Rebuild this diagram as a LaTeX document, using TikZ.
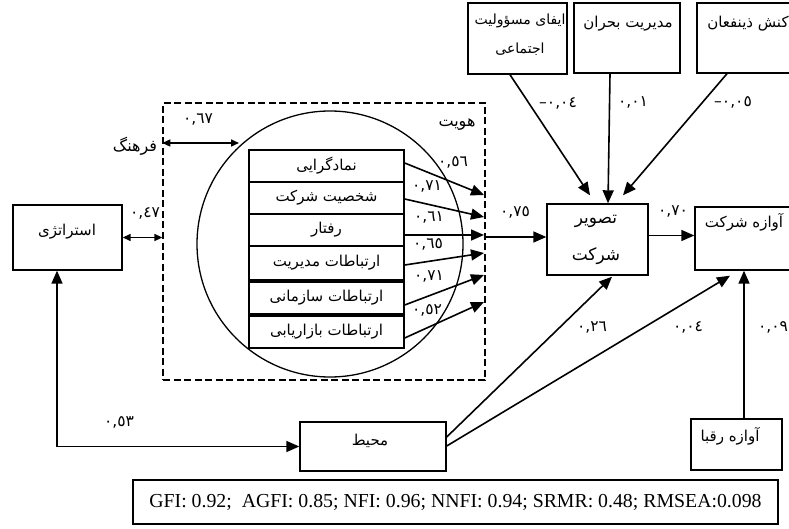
\documentclass[tikz,border=0pt]{standalone}
\usepackage{fontspec}
\setmainfont{Liberation Serif}
\newfontfamily\fa[Script=Arabic]{DejaVu Sans}
\TeXXeTstate=1
\usetikzlibrary{arrows.meta}
\newcommand\pers[1]{{\fa\beginR #1\endR}}
\begin{document}
\begin{tikzpicture}[x=1pt,y=-1pt,
  box/.style={draw, line width=1.4pt, inner sep=0pt, fill=white},
  lbl/.style={font=\fa\fontsize{15.5}{17}\selectfont, inner sep=0pt},
  txt/.style={font=\fa\fontsize{15}{17}\selectfont, inner sep=0pt},
  arr/.style={line width=1.6pt, -{Triangle[length=13pt,width=11pt]}},
  darr/.style={line width=1.6pt, {Triangle[length=8pt,width=7pt]}-{Triangle[length=8pt,width=7pt]}},
  barr/.style={line width=1.6pt, {Triangle[length=13pt,width=11pt]}-{Triangle[length=13pt,width=11pt]}},
]
\useasboundingbox[fill=white] (0,0) rectangle (789,529);

% identity block
\node[draw, line width=1.3pt, dash pattern=on 7pt off 3.5pt, minimum width=322pt, minimum height=277pt, inner sep=0pt] (idbox) at (324,241.5) {};
\node[draw, circle, line width=1.3pt, minimum size=266pt, inner sep=0pt] (circ) at (330,244) {};
\node[txt, font=\fa\fontsize{16}{18}\selectfont] (hoviyat) at (457,125) {\pers{هویت}};

\node[box, minimum width=155pt, minimum height=32pt, txt] (b1) at (326.5,166) {\pers{نمادگرایی}};
\node[box, minimum width=155pt, minimum height=32pt, txt] (b2) at (326.5,198) {\pers{شخصیت شرکت}};
\node[box, minimum width=155pt, minimum height=32pt, txt] (b3) at (326.5,230) {\pers{رفتار}};
\node[box, minimum width=155pt, minimum height=34pt, txt] (b4) at (326.5,263) {\pers{ارتباطات مدیریت}};
\node[box, minimum width=155pt, minimum height=32pt, txt] (b5) at (326.5,298) {\pers{ارتباطات سازمانی}};
\node[box, minimum width=155pt, minimum height=32pt, txt] (b6) at (326.5,332) {\pers{ارتباطات بازاریابی}};

\coordinate (e1) at (484,195);
\coordinate (e2) at (484,217);
\coordinate (e3) at (484,235);
\coordinate (e4) at (484,253);
\coordinate (e5) at (484,275);
\coordinate (e6) at (484,302);
\draw[arr] ([yshift=3pt]b1.east) -- (e1);
\draw[arr] ([yshift=-1pt]b2.east) -- (e2);
\draw[arr] ([yshift=-5pt]b3.east) -- (e3);
\draw[arr] ([yshift=-2pt]b4.east) -- (e4);
\draw[arr] ([yshift=-7pt]b5.east) -- (e5);
\draw[arr] ([yshift=-6pt]b6.east) -- (e6);

\node[lbl] (l1) at (453,162) {٠,٥٦};
\node[lbl] (l2) at (427,186) {٠,٧١};
\node[lbl] (l3) at (429,217) {٠,٦١};
\node[lbl] (l4) at (428,244) {٠,٦٥};
\node[lbl] (l5) at (429,276) {٠,٧١};
\node[lbl] (l6) at (427,310) {٠,٥٢};

% culture
\node[txt, font=\fa\fontsize{16}{18}\selectfont] (farhang) at (135,146) {\pers{فرهنگ}};
\coordinate (fR) at (239,143);
\draw[darr] (idbox.west |- fR) -- (fR);
\node[lbl] (l67) at (198,119) {٠,٦٧};

% strategy
\node[box, minimum width=109pt, minimum height=65pt] (strat) at (67.5,237.5) {};
\node[txt] (strattxt) at (67,232) {\pers{استراتژی}};
\draw[darr] (strat.east) -- (strat.east -| idbox.west);
\node[lbl] (l47) at (145,213) {٠,٤٧};

% top boxes
\node[box, minimum width=99pt, minimum height=71pt] (t1) at (517.5,38.5) {};
\node[txt, font=\fa\fontsize{14}{16}\selectfont] (t1a) at (520,21) {\pers{ایفای مسؤولیت}};
\node[txt, font=\fa\fontsize{14}{16}\selectfont] (t1b) at (520,49) {\pers{اجتماعی}};
\node[box, minimum width=106pt, minimum height=70pt] (t2) at (627,38) {};
\node[txt] (t2txt) at (628,24) {\pers{مدیریت بحران}};
\node[box, minimum width=95pt, minimum height=70pt] (t3) at (744.5,38) {};
\node[txt] (t3txt) at (748,24) {\pers{کنش ذینفعان}};

% image
\node[box, minimum width=101pt, minimum height=71pt] (tasvir) at (597.5,239.5) {};
\node[txt, font=\fa\fontsize{17}{19}\selectfont] (tasvir1) at (596,221) {\pers{تصویر}};
\node[txt, font=\fa\fontsize{17}{19}\selectfont] (tasvir2) at (596,256) {\pers{شرکت}};

\draw[arr] ([xshift=-7.5pt]t1.south) -- ([xshift=-7.5pt,yshift=8pt]tasvir.north);
\draw[arr] ([xshift=-17pt]t2.south) -- ([xshift=10.5pt]tasvir.north);
\draw[arr] ([xshift=-17.5pt]t3.south) -- ([xshift=25.5pt,yshift=8pt]tasvir.north);
\node[lbl] (lm04) at (558,103) {\hbox{–}٠,٠٤};
\node[lbl] (l01) at (633,102) {٠,٠١};
\node[lbl] (lm05) at (733,102) {\hbox{–}٠,٠٥};

\coordinate (ein) at (485,237);
\draw[arr] (ein) -- (ein -| tasvir.west);
\node[lbl] (l75) at (515,212) {٠,٧٥};

% reputation
\node[box, minimum width=97pt, minimum height=63pt] (avazeh) at (743.5,238.5) {};
\node[txt] (avazehtxt) at (744,222) {\pers{آوازه شرکت}};
\draw[arr] ([yshift=4pt]tasvir.east) -- ([yshift=4pt]tasvir.east -| avazeh.west);
\node[lbl] (l70) at (673,211) {٠,٧٠};

% environment
\node[box, minimum width=146pt, minimum height=49pt] (mohit) at (373,446.5) {};
\node[txt] (mohittxt) at (370,441) {\pers{محیط}};
\draw[barr] ([xshift=-10.5pt]strat.south) |- (mohit.west);
\node[lbl] (l53) at (119,422) {٠,٥٣};
\draw[arr] ([yshift=9.5pt]mohit.east) -- ([xshift=14.5pt,yshift=-1pt]tasvir.south);
\draw[arr] ([yshift=0.5pt]mohit.east) -- ([xshift=-13.5pt,yshift=-5pt]avazeh.south);
\node[lbl] (l26) at (592,327) {٠,٢٦};
\node[lbl] (l04) at (688,327) {٠,٠٤};

% rivals
\node[box, minimum width=91pt, minimum height=51pt] (raqiba) at (736.5,444.5) {};
\node[txt] (raqibatxt) at (730,436) {\pers{آوازه رقبا}};
\draw[arr] ([xshift=7.5pt]raqiba.north) -- ([xshift=0.5pt]avazeh.south);
\node[lbl] (l09) at (773,327) {٠,٠٩};

% fit indices
\node[draw, line width=1.2pt, minimum width=645pt, minimum height=44pt, inner sep=0pt, font=\fontsize{19.8}{22}\selectfont] (fit) at (455.5,502) {GFI: 0.92;\ \ AGFI: 0.85; NFI: 0.96; NNFI: 0.94; SRMR: 0.48; RMSEA:0.098};
\end{tikzpicture}
\end{document}
